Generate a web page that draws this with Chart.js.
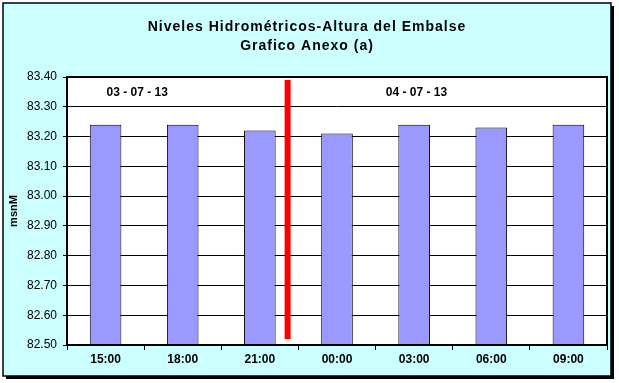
<!DOCTYPE html>
<html>
<head>
<meta charset="utf-8">
<script src="https://cdn.jsdelivr.net/npm/chart.js@4/dist/chart.umd.min.js"></script>
<style>
  html, body { margin: 0; padding: 0; background: #ffffff; }
  #wrap { width: 619px; height: 383px; }
</style>
</head>
<body>
<div id="wrap"><canvas id="c" width="619" height="383"></canvas></div>
<script>
// ---- data ----
const categories = ["15:00", "18:00", "21:00", "00:00", "03:00", "06:00", "09:00"];
const levels = [83.24, 83.24, 83.22, 83.21, 83.24, 83.23, 83.24];
const titleLines = ["Niveles Hidrométricos-Altura del Embalse", "Grafico Anexo (a)"];
const yAxisTitle = "msnM";
const yMin = 82.50, yMax = 83.40, yStep = 0.10;
const dateLabels = ["03 - 07 - 13", "04 - 07 - 13"];
const dateLabelX = [0.41, 4.03];     // position in category units
const dateLabelY = 83.348;           // level at which date labels sit
const dividerX = [2.36, 2.36];        // day divider (category units)
const dividerY = [82.52, 83.39];

const FONT = "'Liberation Sans', Arial, sans-serif";

const framePlugin = {
  id: 'frame',
  beforeDraw(chart) {
    const ctx = chart.ctx;
    ctx.save();
    ctx.fillStyle = '#ffffff';
    ctx.fillRect(0, 0, chart.width, chart.height);
    // shadow
    ctx.fillStyle = '#000000';
    ctx.fillRect(6, 6, 608, 373);
    // cyan frame
    ctx.fillStyle = '#CCFFFF';
    ctx.fillRect(3, 3, 608, 373);
    ctx.strokeStyle = '#000000';
    ctx.lineWidth = 1.5;
    ctx.strokeRect(3, 3, 608, 373);
    // white plot area
    const a = chart.chartArea;
    ctx.fillStyle = '#ffffff';
    ctx.fillRect(a.left, a.top, a.right - a.left, a.bottom - a.top);
    // title
    ctx.fillStyle = '#000000';
    ctx.font = "bold 14px " + FONT;
    ctx.textAlign = 'center';
    ctx.textBaseline = 'middle';
    if ('letterSpacing' in ctx) ctx.letterSpacing = '1px';
    const cx = (3 + 611) / 2;
    titleLines.forEach((t, i) => ctx.fillText(t, cx, 27 + i * 19));
    ctx.restore();
  },
  afterDatasetsDraw(chart) {
    const ctx = chart.ctx;
    const a = chart.chartArea;
    const xs = chart.scales.xLin, ys = chart.scales.y;
    ctx.save();
    ctx.font = "bold 12px " + FONT;
    ctx.fillStyle = '#000000';
    ctx.textAlign = 'center';
    ctx.textBaseline = 'middle';
    dateLabels.forEach((t, i) => {
      ctx.fillText(t, xs.getPixelForValue(dateLabelX[i]), ys.getPixelForValue(dateLabelY));
    });
    ctx.strokeStyle = '#000000';
    ctx.lineWidth = 2;
    ctx.strokeRect(a.left, a.top, a.right - a.left, a.bottom - a.top);
    ctx.restore();
  }
};

new Chart(document.getElementById('c'), {
  type: 'bar',
  data: {
    labels: categories,
    datasets: [
      {
        type: 'bar',
        data: levels,
        backgroundColor: '#9999FF',
        borderColor: '#000000',
        borderWidth: 1,
        barPercentage: 0.41,
        categoryPercentage: 1.0,
        grouped: false,
        xAxisID: 'x',
        yAxisID: 'y',
        order: 2
      },
      {
        type: 'line',
        data: dividerX.map((x, i) => ({ x: x, y: dividerY[i] })),
        borderColor: '#FF0000',
        borderWidth: 6,
        borderCapStyle: 'butt',
        pointRadius: 0,
        fill: false,
        xAxisID: 'xLin',
        yAxisID: 'y',
        order: 1
      }
    ]
  },
  options: {
    responsive: false,
    animation: false,
    layout: { padding: { left: 0, right: 12, top: 77, bottom: 0 } },
    plugins: {
      legend: { display: false },
      tooltip: { enabled: false },
      title: { display: false }
    },
    scales: {
      x: {
        type: 'category',
        offset: true,
        grid: {
          offset: true,
          drawOnChartArea: false,
          drawTicks: true,
          tickLength: 5,
          color: '#000000',
          lineWidth: 1
        },
        border: { display: true, color: '#000000', width: 2 },
        ticks: {
          color: '#000000',
          padding: 2,
          maxRotation: 0,
          font: { family: FONT, size: 12, weight: 'bold' }
        },
        afterFit(scale) { scale.height = 38; }
      },
      xLin: {
        type: 'linear',
        display: false,
        offset: false,
        grid: { offset: false },
        min: -0.5,
        max: categories.length - 0.5
      },
      y: {
        type: 'linear',
        min: yMin,
        max: yMax,
        grid: {
          color: '#000000',
          lineWidth: 1,
          drawTicks: true,
          tickLength: 4
        },
        border: { display: true, color: '#000000', width: 2 },
        ticks: {
          stepSize: yStep,
          color: '#000000',
          padding: 6,
          font: { family: FONT, size: 12 },
          callback: (v) => Number(v).toFixed(2)
        },
        title: {
          display: true,
          text: yAxisTitle,
          color: '#000000',
          font: { family: FONT, size: 11, weight: 'bold' },
          padding: { top: 7, bottom: 0 }
        },
        afterFit(scale) { scale.width = 67; }
      }
    }
  },
  plugins: [framePlugin]
});
</script>
</body>
</html>
